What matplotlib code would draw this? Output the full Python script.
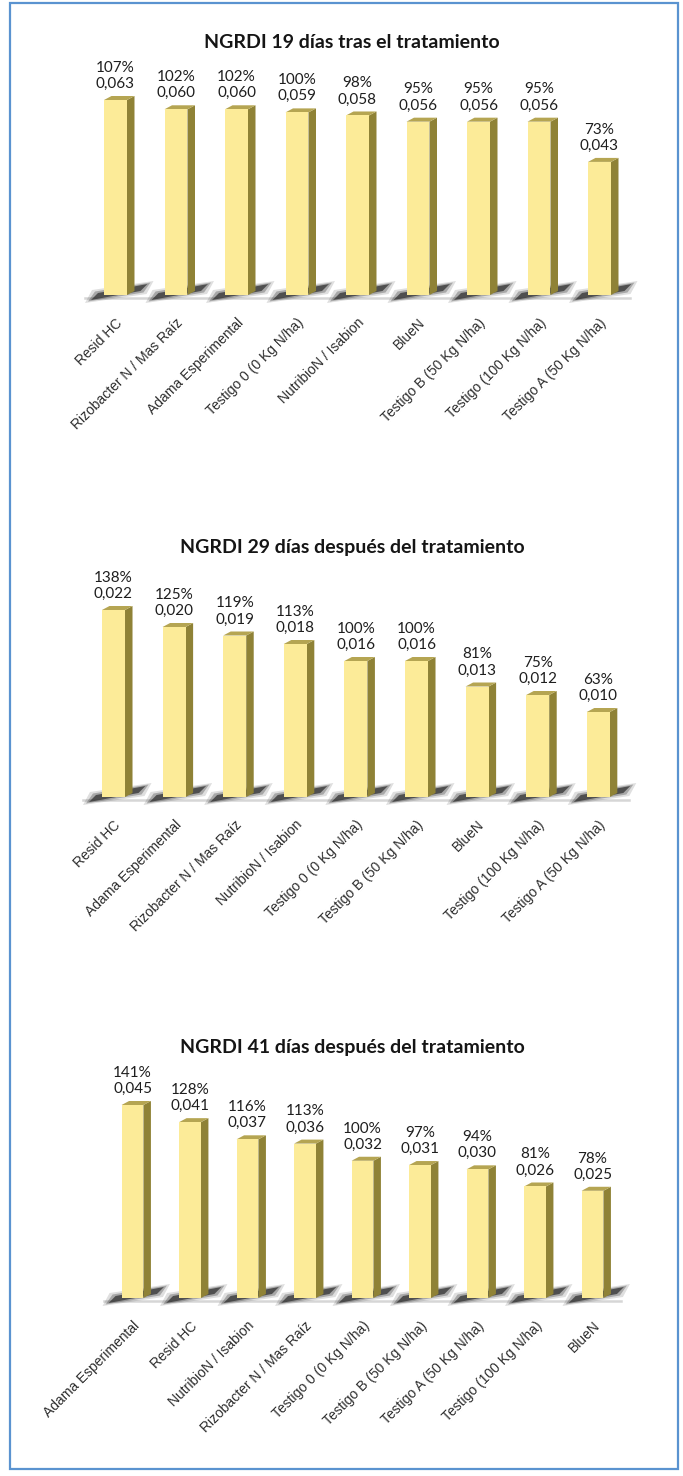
import numpy as np
import matplotlib
matplotlib.use('Agg')
import matplotlib.pyplot as plt
from matplotlib.patches import Polygon, Rectangle

# --- data ---
titles = ['NGRDI 19 días tras el tratamiento',
          'NGRDI 29 días después del tratamiento',
          'NGRDI 41 días después del tratamiento']

cats_19 = ['Resid HC', 'Rizobacter N / Mas Raíz', 'Adama Esperimental',
           'Testigo 0 (0 Kg N/ha)', 'NutribioN / Isabion', 'BlueN',
           'Testigo B (50 Kg N/ha)', 'Testigo (100 Kg N/ha)', 'Testigo A (50 Kg N/ha)']
vals_19 = [0.063, 0.060, 0.060, 0.059, 0.058, 0.056, 0.056, 0.056, 0.043]
pcts_19 = [107, 102, 102, 100, 98, 95, 95, 95, 73]

cats_29 = ['Resid HC', 'Adama Esperimental', 'Rizobacter N / Mas Raíz',
           'NutribioN / Isabion', 'Testigo 0 (0 Kg N/ha)', 'Testigo B (50 Kg N/ha)',
           'BlueN', 'Testigo (100 Kg N/ha)', 'Testigo A (50 Kg N/ha)']
vals_29 = [0.022, 0.020, 0.019, 0.018, 0.016, 0.016, 0.013, 0.012, 0.010]
pcts_29 = [138, 125, 119, 113, 100, 100, 81, 75, 63]

cats_41 = ['Adama Esperimental', 'Resid HC', 'NutribioN / Isabion',
           'Rizobacter N / Mas Raíz', 'Testigo 0 (0 Kg N/ha)', 'Testigo B (50 Kg N/ha)',
           'Testigo A (50 Kg N/ha)', 'Testigo (100 Kg N/ha)', 'BlueN']
vals_41 = [0.045, 0.041, 0.037, 0.036, 0.032, 0.031, 0.030, 0.026, 0.025]
pcts_41 = [141, 128, 116, 113, 100, 97, 94, 81, 78]

# --- style ---
FRONT = '#FCEB98'
SIDE = '#8F8236'
TOP = '#B5A552'
W, H = 683, 1476

fig = plt.figure(figsize=(W / 100, H / 100), dpi=100)
fig.patch.set_facecolor('white')

# page frame
fig.patches.append(Rectangle((10 / W, 7 / H), 668 / W, 1466 / H, transform=fig.transFigure,
                             fill=False, edgecolor='#5A93D0', linewidth=1.6))


def chart(title, cats, vals, pcts, base_px, first_c, step, px_per_unit, title_y):
    ax_h = 240
    left = first_c - step / 2
    ax = fig.add_axes([left / W, (H - base_px) / H, 9 * step / W, ax_h / H])
    ax.set_xlim(-0.5, 8.5)
    ax.set_ylim(0, ax_h / px_per_unit)
    for s in ax.spines.values():
        s.set_visible(False)
    ax.set_yticks([])

    x = np.arange(len(cats))
    bw = 0.38
    vals = np.array(vals)
    # px -> data
    sx, sy = 1 / step, 1 / px_per_unit
    dx, dy = 7.5 * sx, 4 * sy

    # floor line
    ax.plot([-0.5, 8.5], [-3 * sy, -3 * sy], color='#d6d6d6', lw=1.8, clip_on=False, zorder=1)

    for xi, v in zip(x, vals):
        x0, x1 = xi - bw / 2, xi + bw / 2
        xr = x1 + dx
        # soft shadow at the base
        for g, a in [(6, 0.15), (3, 0.3), (0, 0.7)]:
            pts = [(x0 - (13 + g) * sx, (-5 - g * 0.5) * sy),
                   (x0 - (6 + g) * sx, (2 + g * 0.5) * sy),
                   (xr + (13 + g) * sx, (11 + g * 0.5) * sy),
                   (xr + (6 + g) * sx, (4 - g * 0.5) * sy)]
            ax.add_patch(Polygon(pts, closed=True, facecolor='#2a2a2a', edgecolor='none',
                                 alpha=a, zorder=2, clip_on=False))
        # side face
        ax.add_patch(Polygon([(x1, 0), (xr, dy), (xr, v + dy), (x1, v)], closed=True,
                             facecolor=SIDE, edgecolor='none', zorder=3, clip_on=False))
        # top face
        ax.add_patch(Polygon([(x0, v), (x1, v), (xr, v + dy), (x0 + dx, v + dy)], closed=True,
                             facecolor=TOP, edgecolor='none', zorder=3, clip_on=False))

    ax.bar(x, vals, width=bw, color=FRONT, edgecolor='none', zorder=4, clip_on=False)

    for xi, v, p in zip(x, vals, pcts):
        lab = f'{p}%\n' + f'{v:.3f}'.replace('.', ',')
        ax.annotate(lab, xy=(xi, v), xytext=(0, 9), textcoords='offset pixels',
                    ha='center', va='bottom', fontsize=11, family='Lato',
                    color='#1e1e1e', linespacing=1.2, zorder=5)

    ax.set_xticks(x)
    ax.set_xticklabels(cats, rotation=45, ha='right', rotation_mode='anchor',
                       fontsize=10, family='Liberation Sans', color='#2e2e2e')
    ax.tick_params(axis='x', length=0, pad=15)

    fig.text(352 / W, 1 - title_y / H, title, ha='center', va='center',
             fontsize=14, family='Lato', fontweight='bold', color='#151515')
    return ax


chart(titles[0], cats_19, vals_19, pcts_19, 295, 115.5, 60.5, 195 / 0.063, 42)
chart(titles[1], cats_29, vals_29, pcts_29, 797, 113.5, 60.6, 187 / 0.022, 548)
chart(titles[2], cats_41, vals_41, pcts_41, 1298, 132.5, 57.5, 193 / 0.045, 1048)

fig.savefig('out.png', dpi=100)
